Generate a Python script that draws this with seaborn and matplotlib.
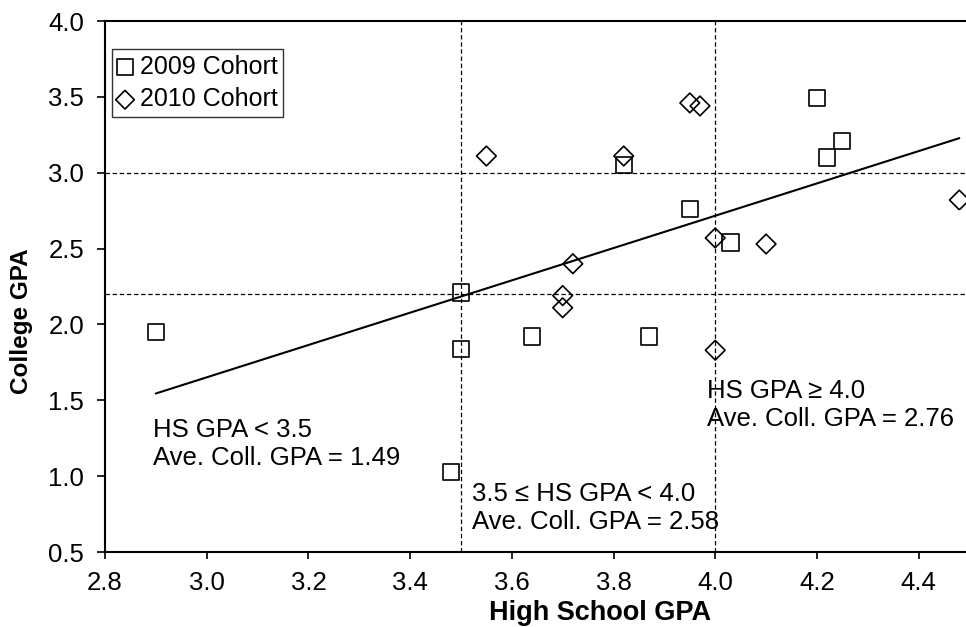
import matplotlib
matplotlib.use("Agg")
import matplotlib.pyplot as plt
import seaborn as sns
import numpy as np
import pandas as pd

# ---- data ----
x2009 = [2.90, 3.48, 3.50, 3.50, 3.64, 3.87, 3.82, 3.95, 4.03, 4.20, 4.22, 4.25]
y2009 = [1.95, 1.03, 2.21, 1.84, 1.92, 1.92, 3.05, 2.76, 2.54, 3.49, 3.10, 3.21]
x2010 = [3.55, 3.82, 3.95, 3.97, 4.00, 4.10, 3.72, 3.70, 3.70, 4.00, 4.48]
y2010 = [3.11, 3.11, 3.46, 3.44, 2.57, 2.53, 2.40, 2.19, 2.11, 1.83, 2.82]
hs_cuts = [3.5, 4.0]
coll_refs = [3.0, 2.2]
xticks = [2.8, 3.0, 3.2, 3.4, 3.6, 3.8, 4.0, 4.2, 4.4]
yticks = [0.5, 1.0, 1.5, 2.0, 2.5, 3.0, 3.5, 4.0]
annotations = [
    ("HS GPA < 3.5", "Ave. Coll. GPA = 1.49", 2.895, 1.258, 1.073),
    ("3.5 \u2264 HS GPA < 4.0", "Ave. Coll. GPA = 2.58", 3.522, 0.836, 0.651),
    ("HS GPA \u2265 4.0", "Ave. Coll. GPA = 2.76", 3.984, 1.515, 1.330),
]

df = pd.DataFrame({
    "hs": x2009 + x2010,
    "coll": y2009 + y2010,
    "cohort": ["2009 Cohort"] * len(x2009) + ["2010 Cohort"] * len(x2010),
})

sns.set_theme(style="white")
plt.rcParams["font.family"] = ["Liberation Sans", "DejaVu Sans"]
plt.rcParams["text.color"] = "black"
plt.rcParams["axes.labelcolor"] = "black"
plt.rcParams["xtick.color"] = "black"
plt.rcParams["ytick.color"] = "black"

FS = 18.5
W, H = 966, 627
fig = plt.figure(figsize=(W / 100, H / 100), dpi=100)
ax = fig.add_axes([105 / W, 1 - 552 / H, (969.5 - 105) / W, (552 - 21) / H])

# reference lines
for xv in hs_cuts:
    ax.axvline(xv, color="black", lw=0.9, ls=(0, (3.5, 2.2)), zorder=1)
for yv in coll_refs:
    ax.axhline(yv, color="black", lw=0.9, ls=(0, (3.5, 2.2)), zorder=1)

# trendline over all data
sns.regplot(data=df, x="hs", y="coll", scatter=False, ci=None, ax=ax,
            line_kws=dict(color="black", lw=1.5, zorder=2))

d09 = df[df.cohort == "2009 Cohort"]
d10 = df[df.cohort == "2010 Cohort"]
sns.scatterplot(data=d09, x="hs", y="coll", marker="s", s=135, facecolor="none",
                edgecolor="black", linewidth=1.2, ax=ax, label="2009 Cohort", zorder=3)
sns.scatterplot(data=d10, x="hs", y="coll", marker="D", s=100, facecolor="none",
                edgecolor="black", linewidth=1.2, ax=ax, label="2010 Cohort", zorder=3)

ax.set_xlim(2.8, 4.5)
ax.set_ylim(0.5, 4.0)
ax.set_xticks(xticks)
ax.set_yticks(yticks)
ax.set_xticklabels([f"{v:.1f}" for v in xticks])
ax.set_yticklabels([f"{v:.1f}" for v in yticks])
ax.tick_params(axis="both", which="both", direction="out", colors="black",
               labelcolor="black", labelsize=FS, pad=9)
ax.tick_params(axis="x", length=5, width=1.2, bottom=True)
ax.tick_params(axis="y", length=6, width=1.2, left=True)

for s in ["left", "bottom", "top", "right"]:
    ax.spines[s].set_color("black")
    ax.spines[s].set_linewidth(1.5)

ax.set_xlabel("High School GPA", fontsize=19.5, fontweight="bold", color="black")
ax.set_ylabel("College GPA", fontsize=17.5, fontweight="bold", color="black")
ax.xaxis.set_label_coords(0.573, -0.091)
ax.yaxis.set_label_coords(-0.083, 0.435)

for l1, l2, xx, y1, y2 in annotations:
    ax.text(xx, y1, l1, fontsize=FS, va="baseline", ha="left", color="black")
    ax.text(xx, y2, l2, fontsize=FS, va="baseline", ha="left", color="black")

leg = ax.legend(loc="upper left", bbox_to_anchor=(7 / 864.5, 1 - 28 / 531),
                borderaxespad=0, fontsize=18, frameon=True, fancybox=False,
                edgecolor="black", handlelength=0.6, handletextpad=0.3,
                labelspacing=0.35, borderpad=0.22, markerscale=0.95)
leg.get_frame().set_linewidth(1.0)
for t in leg.get_texts():
    t.set_color("black")

fig.savefig("out.png", dpi=100, facecolor="white")
